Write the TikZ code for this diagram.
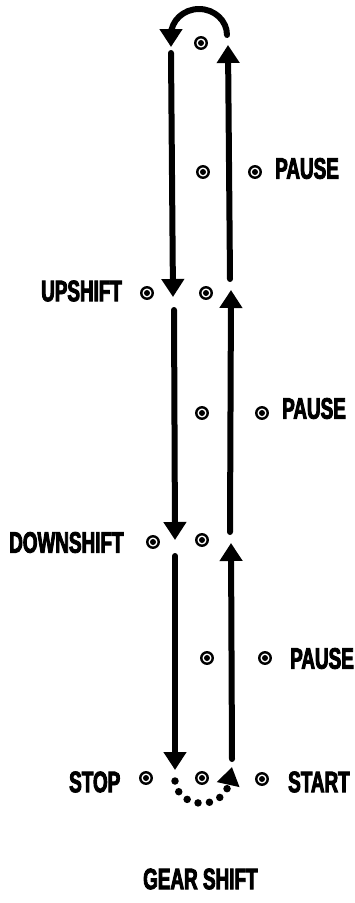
\documentclass[tikz,border=0pt]{standalone}
\usepackage{fontspec}
\newfontfamily\labelfont[FakeStretch=0.64,FakeBold=3]{Liberation Sans}
\usetikzlibrary{arrows.meta}
\begin{document}
\begin{tikzpicture}[x=1pt,y=1pt,
  shaft/.style={line width=6pt, line cap=round, -{Triangle[width=22pt,length=18pt]}},
  dotarc/.style={line width=7.5pt, line cap=round, dash pattern=on 0pt off 11.5pt, -{Triangle[width=22pt,length=18pt]}},
  target/.style={circle, draw, line width=2.4pt, minimum size=11.5pt, inner sep=0pt,
    path picture={\fill (path picture bounding box.center) circle (3pt);}},
  lbl/.style={font=\labelfont\bfseries\fontsize{29.5pt}{32pt}\selectfont, inner sep=0pt, anchor=west}]
\useasboundingbox (0,0) rectangle (355,-903);
% targets and labels
\node[target] (t0) at (201,-43) {};
\node[target] (t1) at (203,-172) {};
\node[target] (p1d) at (255,-172) {};
\node[lbl] (p1) at (275,-168.5) {PAUSE};
\node[target] (up) at (147,-293) {};
\node[target] (t2) at (206,-293) {};
\node[lbl] (upl) at (41,-291) {UPSHIFT};
\node[target] (t3) at (202,-413) {};
\node[target] (p2d) at (262,-413) {};
\node[lbl] (p2) at (282,-408.5) {PAUSE};
\node[target] (dn) at (153,-542) {};
\node[target] (t4) at (202,-540) {};
\node[lbl] (dnl) at (9,-542.5) {DOWNSHIFT};
\node[target] (t5) at (207,-658) {};
\node[target] (p3d) at (265,-658) {};
\node[lbl] (p3) at (290,-658.5) {PAUSE};
\node[target] (st) at (146,-778) {};
\node[target] (t6) at (202,-778) {};
\node[target] (sr) at (262,-779) {};
\node[lbl] (stl) at (69,-782) {STOP};
\node[lbl] (srl) at (288,-782) {START};
\node[lbl] (title) at (143,-879) {GEAR SHIFT};
% end points
\coordinate (a1) at (171,-53);  \coordinate (b1) at (173,-297);
\coordinate (a2) at (174,-310); \coordinate (b2) at (175,-540);
\coordinate (a3) at (175,-556); \coordinate (b3) at (175,-770);
\coordinate (c1) at (232,-759); \coordinate (d1) at (231,-543);
\coordinate (c2) at (230,-532); \coordinate (d2) at (231,-290);
\coordinate (c3) at (230,-279); \coordinate (d3) at (228,-45);
\coordinate (e1) at (227,-35);  \coordinate (e2) at (171,-47);
\coordinate (f1) at (175,-781); \coordinate (f2) at (232,-767);
% connectors
\draw[shaft] (a1) -- (b1);
\draw[shaft] (a2) -- (b2);
\draw[shaft] (a3) -- (b3);
\draw[shaft] (c1) -- (d1);
\draw[shaft] (c2) -- (d2);
\draw[shaft] (c3) -- (d3);
\draw[shaft] (e1) arc[start angle=0, end angle=180, x radius=28, y radius=26] -- (e2);
\draw[dotarc] (f1) arc[start angle=182, end angle=340, x radius=27, y radius=23] -- (f2);
\end{tikzpicture}
\end{document}
